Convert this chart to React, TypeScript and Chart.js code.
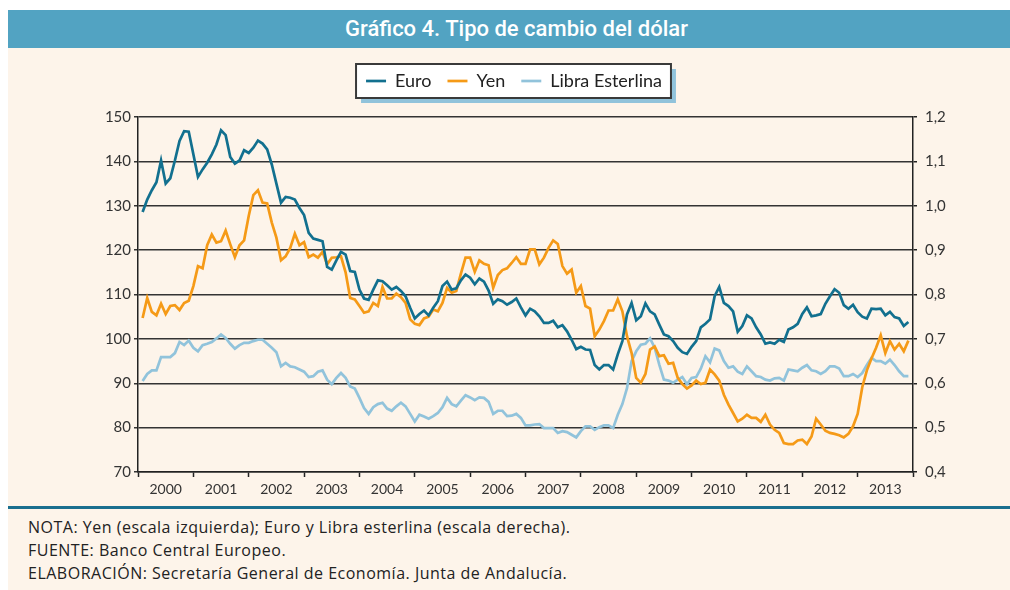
import React, { useEffect, useRef } from 'react';
import { Chart, registerables } from 'chart.js';

Chart.register(...registerables);

const years = ['2000', '2001', '2002', '2003', '2004', '2005', '2006', '2007', '2008', '2009', '2010', '2011', '2012', '2013'];
const seriesNames = ['Euro', 'Yen', 'Libra Esterlina'];

// Monthly, Jan 2000 - Nov 2013 (right axis)
const euro = [
  0.986, 1.014, 1.035, 1.053, 1.102, 1.050, 1.062, 1.102, 1.146, 1.168, 1.167, 1.116,
  1.065, 1.082, 1.097, 1.116, 1.138, 1.170, 1.159, 1.110, 1.095, 1.102, 1.125, 1.119,
  1.131, 1.147, 1.140, 1.127, 1.093, 1.050, 1.007, 1.020, 1.018, 1.014, 0.995, 0.979,
  0.939, 0.926, 0.923, 0.920, 0.862, 0.856, 0.877, 0.896, 0.890, 0.853, 0.851, 0.811,
  0.791, 0.788, 0.811, 0.832, 0.830, 0.821, 0.811, 0.817, 0.808, 0.796, 0.770, 0.746,
  0.756, 0.764, 0.753, 0.770, 0.785, 0.819, 0.829, 0.811, 0.814, 0.832, 0.845, 0.838,
  0.823, 0.836, 0.829, 0.809, 0.779, 0.789, 0.785, 0.777, 0.783, 0.791, 0.771, 0.753,
  0.768, 0.762, 0.751, 0.736, 0.736, 0.741, 0.726, 0.731, 0.717, 0.698, 0.677, 0.682,
  0.676, 0.675, 0.641, 0.631, 0.641, 0.641, 0.631, 0.665, 0.695, 0.755, 0.781, 0.742,
  0.751, 0.780, 0.762, 0.755, 0.732, 0.710, 0.706, 0.695, 0.680, 0.670, 0.666, 0.682,
  0.695, 0.726, 0.734, 0.744, 0.796, 0.817, 0.781, 0.774, 0.762, 0.716, 0.729, 0.753,
  0.746, 0.726, 0.710, 0.689, 0.692, 0.689, 0.698, 0.693, 0.721, 0.726, 0.734, 0.756,
  0.771, 0.751, 0.753, 0.756, 0.779, 0.796, 0.812, 0.804, 0.776, 0.768, 0.777, 0.760,
  0.750, 0.746, 0.768, 0.767, 0.768, 0.753, 0.761, 0.749, 0.746, 0.729, 0.738,
];

// Monthly, Jan 2000 - Nov 2013 (left axis)
const yen = [
  104.7, 109.2, 106.1, 105.3, 107.9, 105.6, 107.4, 107.6, 106.5, 108.1, 108.6, 111.9,
  116.4, 115.9, 121.1, 123.5, 121.7, 122.0, 124.4, 121.3, 118.4, 121.1, 122.2, 127.7,
  132.4, 133.5, 130.7, 130.5, 126.2, 122.8, 117.7, 118.6, 120.5, 123.7, 121.1, 121.8,
  118.4, 119.0, 118.3, 119.6, 116.8, 118.3, 118.4, 118.6, 115.0, 109.2, 108.9, 107.4,
  105.9, 106.2, 108.1, 107.4, 111.7, 109.1, 109.1, 110.2, 109.4, 108.1, 104.4, 103.4,
  103.1, 104.6, 105.0, 106.6, 106.2, 108.1, 111.5, 110.4, 110.8, 114.7, 118.3, 118.3,
  115.1, 117.7, 116.9, 116.6, 111.5, 114.4, 115.5, 115.9, 117.1, 118.4, 116.9, 116.9,
  120.2, 120.2, 116.8, 118.3, 120.5, 122.2, 121.4, 116.4, 114.7, 115.6, 110.4, 111.9,
  107.4, 106.8, 100.6, 102.1, 104.0, 106.4, 106.4, 108.9, 106.2, 100.6, 96.8, 91.2,
  90.1, 92.1, 97.6, 98.3, 96.1, 96.3, 94.4, 94.6, 91.2, 89.8, 88.8, 89.5,
  90.6, 89.8, 90.1, 93.1, 92.0, 90.6, 87.4, 85.2, 83.3, 81.4, 82.0, 82.9,
  82.2, 82.2, 81.3, 82.9, 80.7, 79.5, 78.8, 76.5, 76.3, 76.3, 77.1, 77.3,
  76.3, 78.0, 82.0, 80.7, 79.3, 78.8, 78.6, 78.3, 77.8, 78.6, 80.3, 83.1,
  89.1, 92.9, 95.6, 98.0, 100.8, 96.8, 99.5, 97.6, 98.9, 97.2, 99.6,
];

// Monthly, Jan 2000 - Nov 2013 (right axis)
const libra = [
  0.605, 0.621, 0.629, 0.629, 0.659, 0.659, 0.659, 0.668, 0.693, 0.686, 0.696, 0.680,
  0.672, 0.686, 0.689, 0.693, 0.701, 0.710, 0.702, 0.689, 0.678, 0.686, 0.691, 0.691,
  0.695, 0.698, 0.698, 0.689, 0.680, 0.670, 0.638, 0.646, 0.638, 0.636, 0.631, 0.626,
  0.614, 0.616, 0.626, 0.629, 0.608, 0.598, 0.612, 0.623, 0.612, 0.593, 0.588, 0.567,
  0.544, 0.531, 0.546, 0.553, 0.556, 0.543, 0.538, 0.548, 0.556, 0.548, 0.531, 0.514,
  0.529, 0.525, 0.520, 0.526, 0.533, 0.546, 0.567, 0.553, 0.548, 0.561, 0.573, 0.568,
  0.562, 0.568, 0.567, 0.558, 0.531, 0.538, 0.538, 0.526, 0.527, 0.531, 0.522, 0.505,
  0.505, 0.507, 0.508, 0.499, 0.499, 0.499, 0.488, 0.492, 0.490, 0.484, 0.478, 0.492,
  0.503, 0.503, 0.495, 0.501, 0.505, 0.505, 0.499, 0.529, 0.553, 0.589, 0.650, 0.672,
  0.687, 0.689, 0.701, 0.680, 0.642, 0.608, 0.606, 0.601, 0.608, 0.614, 0.598, 0.612,
  0.614, 0.633, 0.661, 0.647, 0.678, 0.674, 0.650, 0.635, 0.638, 0.626, 0.621, 0.638,
  0.627, 0.616, 0.614, 0.608, 0.606, 0.611, 0.612, 0.606, 0.631, 0.629, 0.627, 0.635,
  0.641, 0.629, 0.627, 0.621, 0.627, 0.638, 0.638, 0.633, 0.616, 0.616, 0.621, 0.614,
  0.623, 0.641, 0.657, 0.650, 0.650, 0.644, 0.653, 0.641, 0.627, 0.616, 0.616,
];

const titleText = 'Gráfico 4. Tipo de cambio del dólar';
const notes = [
  'NOTA: Yen (escala izquierda); Euro y Libra esterlina (escala derecha).',
  'FUENTE: Banco Central Europeo.',
  'ELABORACIÓN: Secretaría General de Economía. Junta de Andalucía.',
];

const FONT = 'Lato, "Open Sans", "DejaVu Sans", sans-serif';
const COLORS = { euro: '#12708F', yen: '#F59A17', libra: '#91C3DB' };

const toPoints = (arr: number[]) => arr.map((v, i) => ({ x: i + 1, y: v }));

const legendBoxPlugin = {
  id: 'legendBox',
  beforeInit(chart: any) {
    const lg = chart.legend;
    if (lg) {
      const orig = lg.fit;
      lg.fit = function () {
        orig.call(this);
        this.height = 61;
      };
    }
  },
  beforeDraw(chart: any) {
    const lg = chart.legend;
    if (!lg || !lg.legendHitBoxes || !lg.legendHitBoxes.length) return;
    const hb = lg.legendHitBoxes;
    const l = Math.min(...hb.map((h: any) => h.left)) - 10;
    const r = Math.max(...hb.map((h: any) => h.left + h.width)) + 9;
    const cy = hb[0].top + hb[0].height / 2;
    const t = cy - 17;
    const b = cy + 17;
    const ctx = chart.ctx;
    ctx.save();
    ctx.fillStyle = '#91C3DB';
    ctx.fillRect(l + 5, t + 5, r - l, b - t);
    ctx.fillStyle = '#FFFFFF';
    ctx.fillRect(l, t, r - l, b - t);
    ctx.strokeStyle = '#3A3A3A';
    ctx.lineWidth = 2;
    ctx.strokeRect(l, t, r - l, b - t);
    ctx.restore();
  },
};

function ChartCanvas() {
  const ref = useRef<HTMLCanvasElement | null>(null);
  useEffect(() => {
    if (!ref.current) return;
    const chart = new Chart(ref.current, {
      type: 'line',
      data: {
        datasets: [
          { label: seriesNames[0], data: toPoints(euro), yAxisID: 'y1', borderColor: COLORS.euro, backgroundColor: COLORS.euro, borderWidth: 2.7, pointRadius: 0, tension: 0, fill: false },
          { label: seriesNames[1], data: toPoints(yen), yAxisID: 'y', borderColor: COLORS.yen, backgroundColor: COLORS.yen, borderWidth: 2.7, pointRadius: 0, tension: 0, fill: false },
          { label: seriesNames[2], data: toPoints(libra), yAxisID: 'y1', borderColor: COLORS.libra, backgroundColor: COLORS.libra, borderWidth: 2.7, pointRadius: 0, tension: 0, fill: false },
        ],
      },
      options: {
        responsive: false,
        animation: false,
        devicePixelRatio: 1,
        layout: { padding: { top: 8, left: 10, right: 0, bottom: 0 } },
        plugins: {
          tooltip: { enabled: false },
          legend: {
            position: 'top',
            labels: {
              usePointStyle: true,
              pointStyle: 'line',
              pointStyleWidth: 20,
              padding: 16,
              color: '#222',
              font: { family: FONT, size: 18 },
            },
          },
        },
        scales: {
          x: {
            type: 'linear',
            min: 0,
            max: 168,
            afterBuildTicks: (s: any) => {
              s.ticks = Array.from({ length: 29 }, (_, k) => ({ value: k * 6 }));
            },
            afterFit: (s: any) => {
              s.height = 36;
            },
            ticks: {
              autoSkip: false,
              maxRotation: 0,
              padding: 4,
              color: '#333',
              font: { family: FONT, size: 14 },
              callback: (v: any) => (Number(v) % 12 === 6 ? years[(Number(v) - 6) / 12] : ''),
            },
            grid: {
              drawOnChartArea: false,
              drawTicks: true,
              tickLength: 5,
              tickWidth: 1.5,
              tickColor: (c: any) => (c.tick && c.tick.value % 12 === 0 ? '#222' : 'rgba(0,0,0,0)'),
            },
            border: { display: true, color: '#222', width: 1.5 },
          },
          y: {
            type: 'linear',
            position: 'left',
            min: 70,
            max: 150,
            afterFit: (s: any) => {
              s.width = 120;
            },
            ticks: { stepSize: 10, padding: 3, color: '#333', font: { family: FONT, size: 15 } },
            grid: { color: '#333', lineWidth: 1.5, tickLength: 4, drawTicks: true },
            border: { display: true, color: '#222', width: 1.5 },
          },
          y1: {
            type: 'linear',
            position: 'right',
            min: 0.4,
            max: 1.2,
            afterFit: (s: any) => {
              s.width = 97;
            },
            ticks: {
              stepSize: 0.1,
              padding: 8,
              color: '#333',
              font: { family: FONT, size: 15 },
              callback: (v: any) => Number(v).toFixed(1).replace('.', ','),
            },
            grid: { drawOnChartArea: false, drawTicks: true, tickLength: 4, color: '#222', lineWidth: 1.5 },
            border: { display: true, color: '#222', width: 1.5 },
          },
        },
      },
      plugins: [legendBoxPlugin],
    } as any);
    return () => chart.destroy();
  }, []);
  return <canvas ref={ref} width={1002} height={460} style={{ display: 'block', width: 1002, height: 460 }} />;
}

export default function App() {
  return (
    <div style={{ position: 'absolute', left: 0, top: 0, width: 1010, height: 590, background: '#FFFFFF', overflow: 'hidden' }}>
      <div style={{ position: 'absolute', left: 8, top: 10, width: 1002, height: 580, background: '#FDF4EA' }}>
        <div
          style={{
            position: 'absolute',
            left: 0,
            top: 0,
            width: 1002,
            height: 38,
            background: '#52A3C2',
            color: '#FFFFFF',
            fontFamily: 'Roboto, "Open Sans", sans-serif',
            fontWeight: 500,
            fontSize: 22,
            lineHeight: '38px',
            textAlign: 'center',
            paddingLeft: 15,
            boxSizing: 'border-box',
          }}
        >
          {titleText}
        </div>
        <div style={{ position: 'absolute', left: 0, top: 38 }}>
          <ChartCanvas />
        </div>
        <div style={{ position: 'absolute', left: 0, top: 496, width: 1002, height: 3, background: '#1A6F8F' }} />
        <div style={{ position: 'absolute', left: 20, top: 506, fontFamily: '"Open Sans", Lato, sans-serif', fontSize: 16, letterSpacing: 0.5, color: '#222', lineHeight: '23px' }}>
          {notes.map((n) => (
            <div key={n}>{n}</div>
          ))}
        </div>
      </div>
    </div>
  );
}
